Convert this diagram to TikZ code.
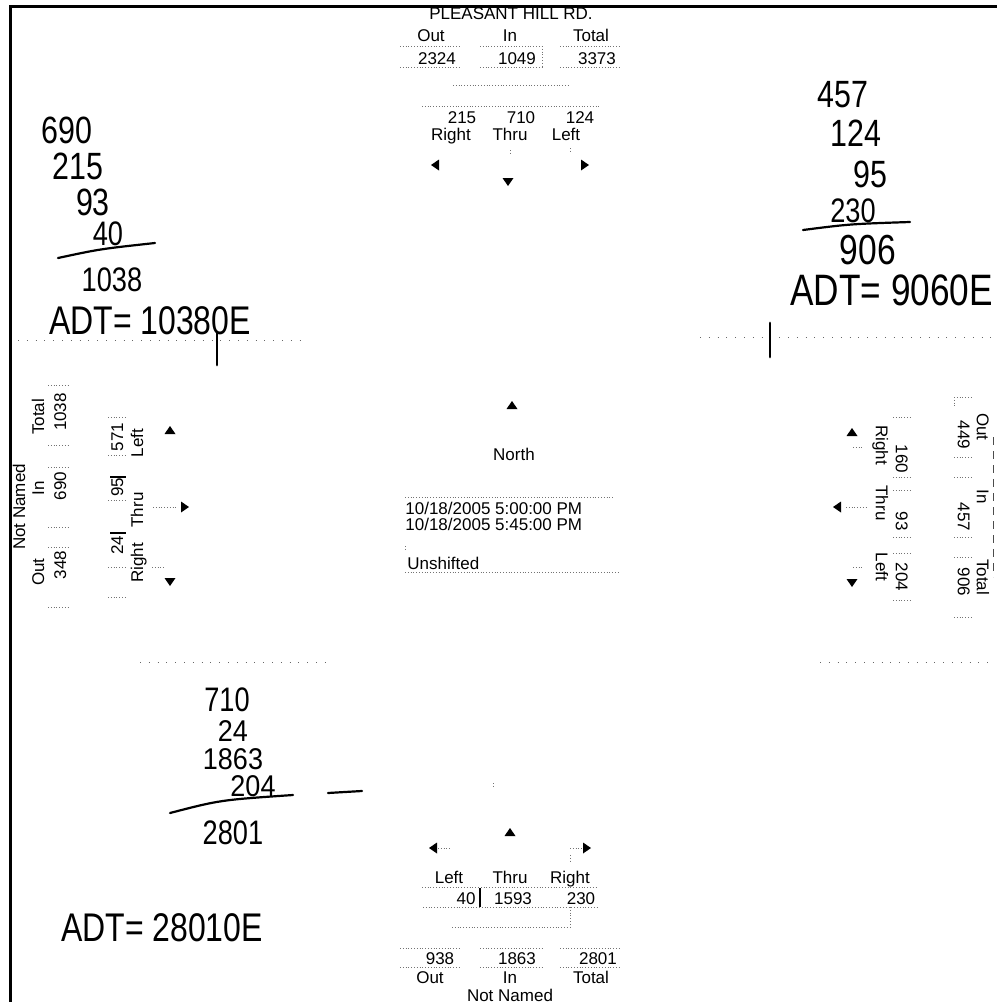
\documentclass[tikz,border=0pt]{standalone}
\usepackage{fontspec}
\setmainfont{Liberation Sans}
\newfontfamily\hwfont[FakeStretch=0.8]{Liberation Sans}
\newfontfamily\hwsmallfont[FakeStretch=0.9]{Liberation Sans}

\begin{document}
\begin{tikzpicture}[x=0.5pt,y=-0.5pt,
  lbl/.style={font=\fontsize{8.5}{10}\selectfont,inner sep=0pt,text height=6.1pt,text depth=0pt},
  hw/.style={font=\hwfont\fontsize{19}{22}\selectfont,inner sep=0pt},
  hwbig/.style={font=\hwfont\fontsize{21}{24}\selectfont,inner sep=0pt},
  hwsmall/.style={font=\hwsmallfont\fontsize{15}{18}\selectfont,inner sep=0pt},
  dotline/.style={densely dotted,black!55,line width=0.4pt},
  edgeline/.style={line width=1.5pt},
  ink/.style={line width=1.1pt,line cap=round},
  tri/.pic={\fill (4,0) -- (-4,5.5) -- (-4,-5.5) -- cycle;}]
\clip (0,0) rectangle (997,1002);
\fill[white] (0,0) rectangle (997,1002);
\draw[edgeline] (10.5,1002) -- (10.5,6.5) -- (997,6.5);

% north approach
\node[lbl] (nRoad) at (511,13) {PLEASANT HILL RD.};
\node[lbl] (nOut) at (431,35) {Out};
\node[lbl] (nIn) at (510,35) {In};
\node[lbl] (nTot) at (591,35) {Total};
\node[lbl] (nOutV) at (437,58) {2324};
\node[lbl] (nInV) at (517,58) {1049};
\node[lbl] (nTotV) at (597,58) {3373};
\foreach \a/\b in {400/460,480/542,560/620} {
  \draw[dotline] (\a,46) -- (\b,46);
  \draw[dotline] (\a,67) -- (\b,67);
}
\draw[dotline] (542,46) -- (542,67);
\draw[dotline] (453,85) -- (570,85);
\draw[dotline] (422,106) -- (600,106);
\node[lbl] (nRgt) at (462,117) {215};
\node[lbl] (nThr) at (521,117) {710};
\node[lbl] (nLft) at (580,117) {124};
\node[lbl] (nRgtL) at (451,134) {Right};
\node[lbl] (nThrL) at (510,134) {Thru};
\node[lbl] (nLftL) at (566,134) {Left};
\draw[dotline] (510,150) -- (510,155);
\draw[dotline] (570,148) -- (570,152);
\pic[rotate=180] at (435,165) {tri};
\pic[rotate=-90] at (508,182) {tri};
\pic at (585,165) {tri};

% centre
\pic[rotate=90] at (512,405) {tri};
\node[lbl] (cNorth) at (514,454) {North};
\draw[dotline] (405,497) -- (613,497);
\node[lbl,anchor=west] (cStart) at (405,508) {10/18/2005 5:00:00 PM};
\node[lbl,anchor=west] (cEnd) at (405,524) {10/18/2005 5:45:00 PM};
\draw[dotline] (405,546) -- (405,550);
\node[lbl,anchor=west] (cShift) at (407,563) {Unshifted};
\draw[dotline] (405,572) -- (620,572);

% west approach
\node[lbl,rotate=90] (wRoad) at (19,507) {Not Named};
\node[lbl,rotate=90] (wTot) at (38,417) {Total};
\node[lbl,rotate=90] (wTotV) at (60,412) {1038};
\node[lbl,rotate=90] (wIn) at (38,488) {In};
\node[lbl,rotate=90] (wInV) at (60,486) {690};
\node[lbl,rotate=90] (wOut) at (38,572) {Out};
\node[lbl,rotate=90] (wOutV) at (60,565) {348};
\foreach \y in {385,445,467,527,547,607}
  \draw[dotline] (48,\y) -- (68,\y);
\node[lbl,rotate=90] (wLft) at (117,437) {571};
\node[lbl,rotate=90] (wLftL) at (137,443) {Left};
\node[lbl,rotate=90] (wThr) at (117,487) {95};
\node[lbl,rotate=90] (wThrL) at (137,510) {Thru};
\node[lbl,rotate=90] (wRgt) at (117,545) {24};
\node[lbl,rotate=90] (wRgtL) at (137,563) {Right};
\foreach \y in {417,455,500,567,597}
  \draw[dotline] (108,\y) -- (127,\y);
\draw[line width=0.6pt] (110,477) -- (126,477);
\draw[line width=0.6pt] (110,533) -- (126,533);
\pic[rotate=90] at (170,430) {tri};
\draw[dotline] (153,507) -- (178,507);
\pic at (185,507) {tri};
\draw[dotline] (152,567) -- (165,567);
\pic[rotate=-90] at (170,582) {tri};

% east approach
\node[lbl,rotate=-90] (eOut) at (983,427) {Out};
\node[lbl,rotate=-90] (eOutV) at (964,435) {449};
\node[lbl,rotate=-90] (eIn) at (983,497) {In};
\node[lbl,rotate=-90] (eInV) at (964,517) {457};
\node[lbl,rotate=-90] (eTot) at (983,577) {Total};
\node[lbl,rotate=-90] (eTotV) at (964,582) {906};
\foreach \y in {397,457,477,537,557,617}
  \draw[dotline] (954,\y) -- (972,\y);
\draw[dotline] (954,397) -- (954,407);
\draw[dash pattern=on 4pt off 3pt,black!70,line width=0.5pt] (993,437) -- (993,577);
\node[lbl,rotate=-90] (eRgtL) at (882,445) {Right};
\node[lbl,rotate=-90] (eRgt) at (902,459) {160};
\node[lbl,rotate=-90] (eThrL) at (882,503) {Thru};
\node[lbl,rotate=-90] (eThr) at (902,521) {93};
\node[lbl,rotate=-90] (eLftL) at (882,567) {Left};
\node[lbl,rotate=-90] (eLft) at (902,577) {204};
\foreach \y in {417,477,490,537,553,600}
  \draw[dotline] (893,\y) -- (912,\y);
\pic[rotate=90] at (852,432) {tri};
\draw[dotline] (853,447) -- (863,447);
\pic[rotate=180] at (837,507) {tri};
\draw[dotline] (846,507) -- (867,507);
\draw[dotline] (853,567) -- (863,567);
\pic[rotate=-90] at (852,583) {tri};

% south approach
\draw[dotline] (493,783) -- (493,787);
\pic[rotate=90] at (510,832) {tri};
\pic[rotate=180] at (433,848) {tri};
\draw[dotline] (438,848) -- (450,848);
\draw[dotline] (570,848) -- (582,848);
\pic at (587,848) {tri};
\draw[dotline] (570,855) -- (570,863);
\node[lbl] (sLftL) at (449,877) {Left};
\node[lbl] (sThrL) at (510,877) {Thru};
\node[lbl] (sRgtL) at (570,877) {Right};
\draw[dotline] (422,887) -- (598,887);
\node[lbl] (sLft) at (466,898) {40};
\node[lbl] (sThr) at (513,898) {1593};
\node[lbl] (sRgt) at (581,898) {230};
\draw[line width=0.6pt] (480,888) -- (480,907);
\draw[dotline] (423,907) -- (598,907);
\draw[dotline] (570,907) -- (570,927);
\draw[dotline] (452,927) -- (568,927);
\foreach \a/\b in {400/460,480/542,560/620} {
  \draw[dotline] (\a,948) -- (\b,948);
  \draw[dotline] (\a,967) -- (\b,967);
}
\node[lbl] (sOutV) at (440,958) {938};
\node[lbl] (sInV) at (517,958) {1863};
\node[lbl] (sTotV) at (598,958) {2801};
\node[lbl] (sOut) at (430,977) {Out};
\node[lbl] (sIn) at (510,977) {In};
\node[lbl] (sTot) at (591,977) {Total};
\node[lbl] (sRoad) at (510,995) {Not Named};

% band lines
\draw[loosely dotted,black!60] (18,340) -- (300,340);
\draw[loosely dotted,black!60] (700,337) -- (997,337);
\draw[loosely dotted,black!60] (140,662) -- (330,662);
\draw[loosely dotted,black!60] (820,662) -- (990,662);

% handwriting, west sum
\node[hw] (hwA) at (67,130) {690};
\node[hw] (hwB) at (78,166) {215};
\node[hw] (hwC) at (93,202) {93};
\node[hw,font=\hwfont\fontsize{17}{20}\selectfont] (hwD) at (108,234) {40};
\draw[ink] (58,258) .. controls (100,249) .. (155,243);
\node[hw,font=\hwfont\fontsize{17}{20}\selectfont] (hwSum) at (112,280) {1038};
\node[hw,font=\hwfont\fontsize{20}{23}\selectfont] (hwAdt) at (150,321) {ADT= 10380E};
\draw[ink,line width=1.4pt] (217,332) -- (217,365);

% handwriting, east sum
\node[hw] (heA) at (843,95) {457};
\node[hw] (heB) at (856,133) {124};
\node[hw] (heC) at (870,174) {95};
\node[hw,font=\hwfont\fontsize{17}{20}\selectfont] (heD) at (853,211) {230};
\draw[ink] (803,230) .. controls (850,224) .. (910,222);
\node[hwbig] (heSum) at (868,250) {906};
\node[hw,font=\hwfont\fontsize{22}{25}\selectfont,anchor=west] (heAdt) at (790,290) {ADT= 9060E};
\draw[ink,line width=1.4pt] (770,323) -- (770,357);

% handwriting, south sum
\node[hw,font=\hwfont\fontsize{17}{20}\selectfont] (hsA) at (227,700) {710};
\node[hwsmall] (hsB) at (233,731) {24};
\node[hwsmall] (hsC) at (233,759) {1863};
\node[hwsmall] (hsD) at (253,786) {204};
\draw[ink] (170,813) .. controls (220,800) .. (293,795);
\node[hw,font=\hwfont\fontsize{17}{20}\selectfont] (hsSum) at (233,833) {2801};
\draw[ink] (328,793) -- (362,791);
\node[hw,font=\hwfont\fontsize{20}{23}\selectfont] (hsAdt) at (162,928) {ADT= 28010E};
\end{tikzpicture}
\end{document}
